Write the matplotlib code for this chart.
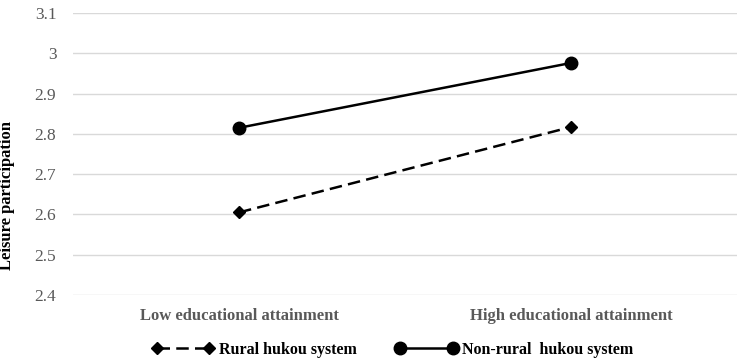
import matplotlib
matplotlib.use("Agg")
import matplotlib.pyplot as plt
from matplotlib.lines import Line2D

categories = ["Low educational attainment", "High educational attainment"]
rural = [2.605, 2.817]
nonrural = [2.815, 2.976]
yticks = [2.4, 2.5, 2.6, 2.7, 2.8, 2.9, 3.0, 3.1]
yticklabels = ["2.4", "2.5", "2.6", "2.7", "2.8", "2.9", "3", "3.1"]

plt.rcParams['font.family'] = ['Liberation Serif', 'DejaVu Serif']

fig = plt.figure(figsize=(7.38, 3.61), dpi=100)
ax = fig.add_axes([73/738, 1-295/361, (737-73)/738, (295-13)/361])

x = list(range(len(categories)))
dash = (0, (5, 2.5))
ax.plot(x, rural, color='black', lw=1.8, ls=dash, marker='D', ms=6,
        label='Rural hukou system')
ax.plot(x, nonrural, color='black', lw=1.8, ls='-', marker='o', ms=9,
        label='Non-rural  hukou system')

ax.set_xlim(-0.5, 1.5)
ax.set_ylim(2.4, 3.1)
ax.set_yticks(yticks)
ax.set_yticklabels(yticklabels, fontsize=12.5, color='#595959')
ax.set_xticks(x)
ax.set_xticklabels(categories, fontsize=12, fontweight='bold', color='#595959')
ax.tick_params(axis='x', length=0, pad=9)
ax.tick_params(axis='y', length=0, pad=12)
ax.grid(axis='y', color='#d9d9d9', lw=1)
ax.set_axisbelow(True)
for s in ax.spines.values():
    s.set_visible(False)

fig.text(7.5/738, 1-196/361, "Leisure participation", rotation=90, fontsize=12,
         fontweight='bold', ha='center', va='center', color='black')

h1 = Line2D([0], [0], color='black', lw=1.8, ls=dash, marker='D', ms=6)
h2 = Line2D([0], [0], color='black', lw=1.8, ls='-', marker='o', ms=9)
leg = fig.legend([h1, h2], ['Rural hukou system', 'Non-rural  hukou system'],
                 loc='center', bbox_to_anchor=(0.532, 1-350/361), ncol=2,
                 frameon=False, prop={'size': 11.5, 'weight': 'bold'},
                 numpoints=2, handlelength=3.9, handletextpad=0.3,
                 columnspacing=2.4)

fig.savefig("out.png", dpi=100)
